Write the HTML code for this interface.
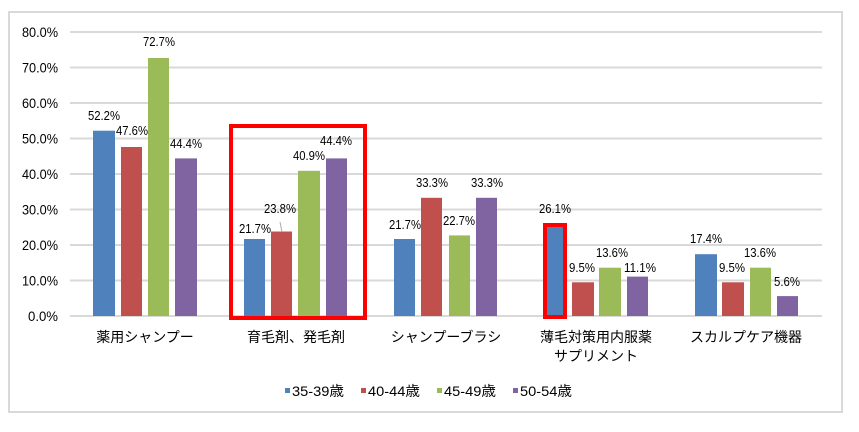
<!DOCTYPE html>
<html><head><meta charset="utf-8"><style>
body{margin:0;background:#fff;width:859px;height:427px;overflow:hidden}
svg text{font-family:"Liberation Sans",sans-serif;fill:#000}
.j{font-family:"Liberation Sans","Noto Sans CJK JP",sans-serif}
</style></head><body>
<svg width="859" height="427" xmlns="http://www.w3.org/2000/svg">
<rect x="9" y="12" width="833" height="400" fill="#fff" stroke="#d9d9d9" stroke-width="2"/>
<g stroke="#d9d9d9" stroke-width="2">
<line x1="70" x2="822" y1="32" y2="32"/><line x1="70" x2="822" y1="67.5" y2="67.5"/>
<line x1="70" x2="822" y1="103" y2="103"/><line x1="70" x2="822" y1="138.5" y2="138.5"/>
<line x1="70" x2="822" y1="174" y2="174"/><line x1="70" x2="822" y1="209.5" y2="209.5"/>
<line x1="70" x2="822" y1="245" y2="245"/><line x1="70" x2="822" y1="280.5" y2="280.5"/>
<line x1="70" x2="822" y1="316" y2="316"/>
</g>
<g font-size="14" text-anchor="end">
<text x="58" y="37" textLength="36" lengthAdjust="spacingAndGlyphs">80.0%</text>
<text x="58" y="72.5" textLength="36" lengthAdjust="spacingAndGlyphs">70.0%</text>
<text x="58" y="108" textLength="36" lengthAdjust="spacingAndGlyphs">60.0%</text>
<text x="58" y="143.5" textLength="36" lengthAdjust="spacingAndGlyphs">50.0%</text>
<text x="58" y="179" textLength="36" lengthAdjust="spacingAndGlyphs">40.0%</text>
<text x="58" y="214.5" textLength="36" lengthAdjust="spacingAndGlyphs">30.0%</text>
<text x="58" y="250" textLength="36" lengthAdjust="spacingAndGlyphs">20.0%</text>
<text x="58" y="285.5" textLength="36" lengthAdjust="spacingAndGlyphs">10.0%</text>
<text x="58" y="321" textLength="30" lengthAdjust="spacingAndGlyphs">0.0%</text>
</g>
<g>
<rect x="93" y="130.7" width="22" height="185.3" fill="#4f81bd"/>
<rect x="121" y="147" width="21" height="169" fill="#c0504d"/>
<rect x="148" y="58" width="21" height="258" fill="#9bbb59"/>
<rect x="175" y="158.4" width="22" height="157.6" fill="#8064a2"/>
<rect x="244" y="239" width="21" height="77" fill="#4f81bd"/>
<rect x="271" y="231.5" width="21" height="84.5" fill="#c0504d"/>
<rect x="298" y="170.8" width="22" height="145.2" fill="#9bbb59"/>
<rect x="326" y="158.4" width="21" height="157.6" fill="#8064a2"/>
<rect x="394" y="239" width="21" height="77" fill="#4f81bd"/>
<rect x="421" y="197.8" width="21" height="118.2" fill="#c0504d"/>
<rect x="449" y="235.4" width="21" height="80.6" fill="#9bbb59"/>
<rect x="476" y="197.8" width="21" height="118.2" fill="#8064a2"/>
<rect x="546" y="223.3" width="20" height="92.7" fill="#4f81bd"/>
<rect x="572" y="282.3" width="22" height="33.7" fill="#c0504d"/>
<rect x="599" y="267.7" width="22" height="48.3" fill="#9bbb59"/>
<rect x="627" y="276.6" width="21" height="39.4" fill="#8064a2"/>
<rect x="695" y="254.2" width="22" height="61.8" fill="#4f81bd"/>
<rect x="722" y="282.3" width="22" height="33.7" fill="#c0504d"/>
<rect x="750" y="267.7" width="21" height="48.3" fill="#9bbb59"/>
<rect x="777" y="296.1" width="21" height="19.9" fill="#8064a2"/>
</g>
<line x1="280" y1="222" x2="282" y2="232" stroke="#aaa" stroke-width="1"/>
<g font-size="13" text-anchor="middle">
<text x="104" y="120" textLength="32" lengthAdjust="spacingAndGlyphs">52.2%</text>
<text x="132" y="135" textLength="32" lengthAdjust="spacingAndGlyphs">47.6%</text>
<text x="159" y="46" textLength="32" lengthAdjust="spacingAndGlyphs">72.7%</text>
<text x="186" y="148" textLength="32" lengthAdjust="spacingAndGlyphs">44.4%</text>
<text x="255" y="233" textLength="32" lengthAdjust="spacingAndGlyphs">21.7%</text>
<text x="280" y="213" textLength="32" lengthAdjust="spacingAndGlyphs">23.8%</text>
<text x="309" y="160" textLength="32" lengthAdjust="spacingAndGlyphs">40.9%</text>
<text x="336" y="145" textLength="32" lengthAdjust="spacingAndGlyphs">44.4%</text>
<text x="405" y="229" textLength="32" lengthAdjust="spacingAndGlyphs">21.7%</text>
<text x="432" y="187" textLength="32" lengthAdjust="spacingAndGlyphs">33.3%</text>
<text x="459" y="225" textLength="32" lengthAdjust="spacingAndGlyphs">22.7%</text>
<text x="487" y="187" textLength="32" lengthAdjust="spacingAndGlyphs">33.3%</text>
<text x="555" y="213" textLength="32" lengthAdjust="spacingAndGlyphs">26.1%</text>
<text x="582" y="272" textLength="26" lengthAdjust="spacingAndGlyphs">9.5%</text>
<text x="612" y="257" textLength="32" lengthAdjust="spacingAndGlyphs">13.6%</text>
<text x="640" y="272" textLength="32" lengthAdjust="spacingAndGlyphs">11.1%</text>
<text x="706" y="243" textLength="32" lengthAdjust="spacingAndGlyphs">17.4%</text>
<text x="732" y="272" textLength="26" lengthAdjust="spacingAndGlyphs">9.5%</text>
<text x="760" y="257" textLength="32" lengthAdjust="spacingAndGlyphs">13.6%</text>
<text x="787" y="286" textLength="26" lengthAdjust="spacingAndGlyphs">5.6%</text>
</g>
<g fill="none" stroke="#ff0000" stroke-width="4">
<rect x="231" y="126" width="134" height="192"/>
<rect x="545" y="225" width="20" height="92"/>
</g>
<g font-size="14" text-anchor="middle">
<text class="j" x="145" y="342">薬用シャンプー</text>
<text class="j" x="296" y="342">育毛剤、発毛剤</text>
<text class="j" x="446" y="342">シャンプーブラシ</text>
<text class="j" x="596" y="342">薄毛対策用内服薬</text>
<text class="j" x="596" y="361">サプリメント</text>
<text class="j" x="746" y="342">スカルプケア機器</text>
</g>
<rect x="285" y="388" width="5" height="5" fill="#4f81bd"/>
<rect x="361" y="388" width="5" height="5" fill="#c0504d"/>
<rect x="437" y="388" width="5" height="5" fill="#9bbb59"/>
<rect x="513" y="388" width="5" height="5" fill="#8064a2"/>
<g font-size="14">
<text class="j" x="292" y="396" textLength="52" lengthAdjust="spacingAndGlyphs">35-39歳</text>
<text class="j" x="368" y="396" textLength="52" lengthAdjust="spacingAndGlyphs">40-44歳</text>
<text class="j" x="444" y="396" textLength="52" lengthAdjust="spacingAndGlyphs">45-49歳</text>
<text class="j" x="520" y="396" textLength="52" lengthAdjust="spacingAndGlyphs">50-54歳</text>
</g>
</svg>
</body></html>
